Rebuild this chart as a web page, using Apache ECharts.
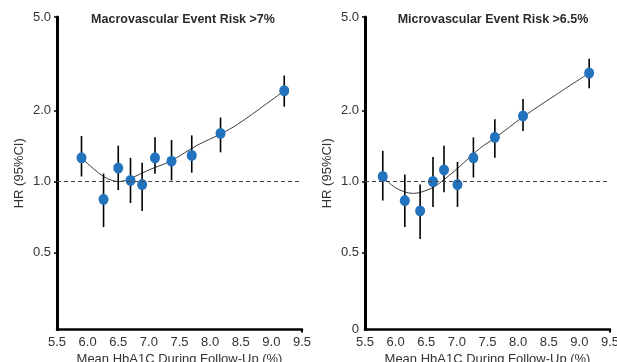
<!DOCTYPE html>
<html>
<head>
<meta charset="utf-8">
<script src="https://cdn.jsdelivr.net/npm/echarts@6/dist/echarts.min.js"></script>
<style>
  html, body { margin: 0; padding: 0; background: #fff; }
  #chart { width: 617px; height: 362px; }
</style>
</head>
<body>
<div id="chart"></div>
<script>
// panel titles
const titles = ['Macrovascular Event Risk >7%', 'Microvascular Event Risk >6.5%'];

// left panel: macrovascular
const macroX  = [5.90, 6.26, 6.50, 6.70, 6.89, 7.10, 7.37, 7.70, 8.17, 9.21];
const macroHR = [1.26, 0.84, 1.14, 1.01, 0.97, 1.26, 1.22, 1.29, 1.60, 2.43];
const macroLo = [1.05, 0.64, 0.92, 0.81, 0.75, 1.08, 1.01, 1.09, 1.33, 2.08];
const macroHi = [1.56, 1.08, 1.42, 1.26, 1.20, 1.54, 1.50, 1.57, 1.87, 2.82];
const macroFitX = [5.90, 6.10, 6.26, 6.40, 6.52, 6.70, 7.00, 7.35, 7.80, 8.17, 8.45, 8.90, 9.21];
const macroFitY = [1.26, 1.13, 1.05, 1.01, 1.00, 1.03, 1.12, 1.22, 1.43, 1.59, 1.75, 2.12, 2.43];

// right panel: microvascular
const microX  = [5.79, 6.15, 6.40, 6.61, 6.79, 7.01, 7.27, 7.62, 8.08, 9.16];
const microHR = [1.05, 0.83, 0.75, 1.00, 1.12, 0.97, 1.26, 1.54, 1.90, 2.89];
const microLo = [0.83, 0.64, 0.57, 0.78, 0.90, 0.78, 1.04, 1.26, 1.64, 2.49];
const microHi = [1.35, 1.07, 0.97, 1.27, 1.42, 1.21, 1.54, 1.84, 2.24, 3.32];
const microFitX = [5.79, 6.00, 6.29, 6.60, 6.75, 7.00, 7.37, 7.62, 8.08, 8.60, 9.16];
const microFitY = [1.05, 0.94, 0.89, 0.94, 1.00, 1.13, 1.38, 1.53, 1.88, 2.32, 2.89];

// axis ticks
const xTicks = [5.5, 6.0, 6.5, 7.0, 7.5, 8.0, 8.5, 9.0, 9.5];
const yTicksLeft = [0.5, 1.0, 2.0, 5.0];
const yTicksRight = [0.235, 0.5, 1.0, 2.0, 5.0];
const yMin = 0.235, yMax = 5;

const font = 'Liberation Sans, Arial, sans-serif';
const gridLefts = [57, 365];

const chart = echarts.init(document.getElementById('chart'));

function xAxisFor(i) {
  return {
    type: 'value', gridIndex: i, min: 5.5, max: 9.5, interval: 0.5,
    name: 'Mean HbA1C During Follow-Up (%)', nameLocation: 'middle', nameGap: 18,
    nameTextStyle: { fontSize: 13, color: '#333', fontFamily: font },
    axisLine: { lineStyle: { color: '#000', width: 2.5 } },
    axisTick: { show: true, customValues: [9.5], length: 3, lineStyle: { color: '#000', width: 2 } },
    axisLabel: { customValues: xTicks, margin: 6, fontSize: 13, color: '#333', fontFamily: font,
      formatter: v => v.toFixed(1) },
    splitLine: { show: false }
  };
}

function yAxisFor(i, ticks) {
  return {
    type: 'log', logBase: 10, gridIndex: i, min: yMin, max: yMax,
    name: 'HR (95%CI)', nameLocation: 'middle', nameGap: 31, nameRotate: 90,
    nameTextStyle: { fontSize: 13, color: '#333', fontFamily: font },
    axisLine: { show: true, lineStyle: { color: '#000', width: 3 } },
    axisTick: { show: true, customValues: ticks.filter(v => v >= 0.5), length: 3,
      lineStyle: { color: '#000', width: 1.5 } },
    axisLabel: { customValues: ticks, margin: 6, fontSize: 13, color: '#333', fontFamily: font,
      formatter: v => (v < 0.3 ? '0' : v.toFixed(1)) },
    splitLine: { show: false }
  };
}

function panelSeries(i, xs, hr, lo, hi, fitX, fitY) {
  return [
    {
      type: 'line', xAxisIndex: i, yAxisIndex: i, smooth: 0.35, showSymbol: false,
      data: fitX.map((x, k) => [x, fitY[k]]),
      lineStyle: { color: '#3c3c3c', width: 1 }, z: 2, silent: true,
      markLine: {
        silent: true, symbol: 'none', label: { show: false },
        lineStyle: { color: '#444', width: 1, type: [4, 3] },
        data: [{ yAxis: 1 }]
      }
    },
    {
      type: 'custom', xAxisIndex: i, yAxisIndex: i, z: 3,
      data: xs.map((x, k) => [x, lo[k], hi[k]]),
      renderItem: (params, api) => {
        const p1 = api.coord([api.value(0), api.value(1)]);
        const p2 = api.coord([api.value(0), api.value(2)]);
        return {
          type: 'line',
          shape: { x1: p1[0], y1: p1[1], x2: p2[0], y2: p2[1] },
          style: { stroke: '#000', lineWidth: 1.6 }
        };
      }
    },
    {
      type: 'scatter', xAxisIndex: i, yAxisIndex: i, z: 4,
      data: xs.map((x, k) => [x, hr[k]]),
      symbol: 'circle', symbolSize: [10, 11],
      itemStyle: { color: '#2272bd', opacity: 1 }
    }
  ];
}

const option = {
  backgroundColor: '#fff',
  animation: false,
  grid: [
    { left: gridLefts[0], width: 245, top: 17, bottom: 32.5, outerBoundsMode: 'none', containLabel: false },
    { left: gridLefts[1], width: 245, top: 17, bottom: 32.5, outerBoundsMode: 'none', containLabel: false }
  ],
  xAxis: [xAxisFor(0), xAxisFor(1)],
  yAxis: [yAxisFor(0, yTicksLeft), yAxisFor(1, yTicksRight)],
  graphic: [
    { type: 'text', x: 183, y: 20, style: { text: titles[0], fontSize: 12.5, fontWeight: 'bold',
      fill: '#2b2b2b', fontFamily: font, textAlign: 'center', textVerticalAlign: 'middle' } },
    { type: 'text', x: 493, y: 20, style: { text: titles[1], fontSize: 12.5, fontWeight: 'bold',
      fill: '#2b2b2b', fontFamily: font, textAlign: 'center', textVerticalAlign: 'middle' } }
  ],
  series: [
    ...panelSeries(0, macroX, macroHR, macroLo, macroHi, macroFitX, macroFitY),
    ...panelSeries(1, microX, microHR, microLo, microHi, microFitX, microFitY)
  ]
};

chart.setOption(option);
</script>
</body>
</html>
